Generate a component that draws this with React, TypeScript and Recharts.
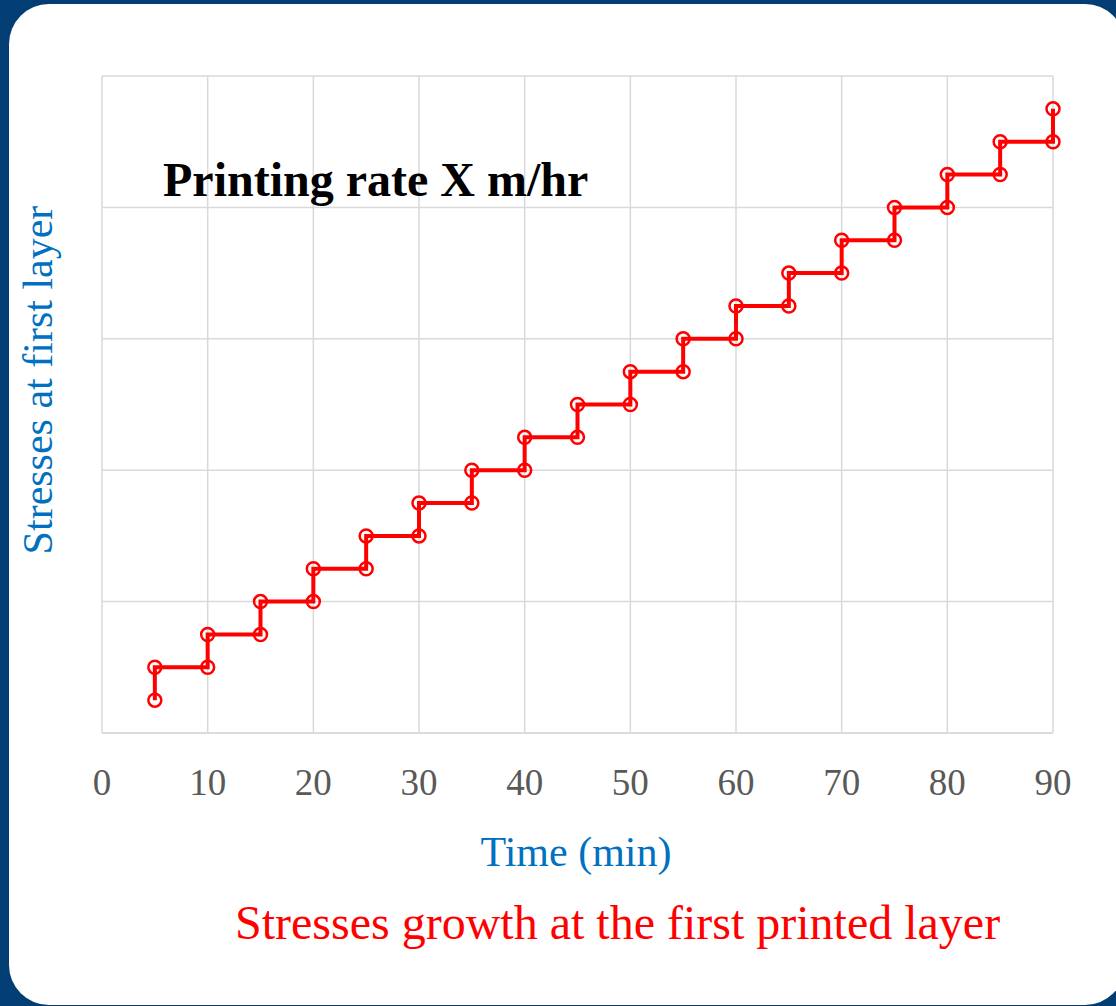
import React from 'react';
import { LineChart, Line, XAxis, YAxis, CartesianGrid } from 'recharts';

const timeMinutes = [
  5, 5, 10, 10, 15, 15, 20, 20, 25, 25, 30, 30, 35, 35, 40, 40, 45, 45,
  50, 50, 55, 55, 60, 60, 65, 65, 70, 70, 75, 75, 80, 80, 85, 85, 90, 90,
];
const stressValues = [
  0.25, 0.5, 0.5, 0.75, 0.75, 1.0, 1.0, 1.25, 1.25, 1.5, 1.5, 1.75, 1.75, 2.0, 2.0, 2.25, 2.25, 2.5,
  2.5, 2.75, 2.75, 3.0, 3.0, 3.25, 3.25, 3.5, 3.5, 3.75, 3.75, 4.0, 4.0, 4.25, 4.25, 4.5, 4.5, 4.75,
];
const xTicks = [0, 10, 20, 30, 40, 50, 60, 70, 80, 90];
const yTicks = [0, 1, 2, 3, 4, 5];

const chartTitle = 'Printing rate X m/hr';
const xAxisTitle = 'Time (min)';
const yAxisTitle = 'Stresses at first layer';
const caption = 'Stresses growth at the first printed layer';

const data = timeMinutes.map((t, i) => ({ time: t, stress: stressValues[i] }));

const SERIF = '"Liberation Serif", "Times New Roman", serif';

const EmptyTick = () => <g />;

export default function App() {
  return (
    <div
      style={{
        position: 'absolute',
        left: 0,
        top: 0,
        width: 1116,
        height: 1006,
        background: '#023e73',
        overflow: 'hidden',
      }}
    >
      <div
        style={{
          position: 'absolute',
          left: 9,
          top: 4,
          width: 1116,
          height: 1001,
          background: '#ffffff',
          borderRadius: 40,
        }}
      />
      <div style={{ position: 'absolute', left: 0, top: 0 }}>
        <LineChart
          width={1116}
          height={1006}
          data={data}
          margin={{ top: 76, right: 63, bottom: 243, left: 102 }}
        >
          <CartesianGrid
            stroke="#d9d9d9"
            strokeWidth={1.5}
            horizontalValues={yTicks}
            verticalValues={xTicks}
          />
          <XAxis
            type="number"
            dataKey="time"
            domain={[0, 90]}
            ticks={xTicks}
            interval={0}
            height={30}
            tickLine={false}
            tickSize={0}
            tickMargin={36}
            axisLine={{ stroke: '#d9d9d9', strokeWidth: 1.5 }}
            tick={{ fill: '#595959', fontSize: 37, fontFamily: SERIF }}
          />
          <YAxis
            type="number"
            domain={[0, 5]}
            ticks={yTicks}
            interval={0}
            width={0}
            tick={<EmptyTick />}
            tickLine={false}
            axisLine={false}
          />
          <Line
            type="linear"
            dataKey="stress"
            stroke="#ff0000"
            strokeWidth={4}
            dot={{ r: 6.5, stroke: '#ff0000', strokeWidth: 2.5, fill: 'none' }}
            activeDot={false}
            isAnimationActive={false}
          />
        </LineChart>
      </div>
      <svg
        width={1116}
        height={1006}
        style={{ position: 'absolute', left: 0, top: 0, pointerEvents: 'none' }}
      >
        <text x={163} y={196} fontFamily={SERIF} fontWeight="bold" fontSize={48} fill="#000000">
          {chartTitle}
        </text>
        <text x={576} y={866} fontFamily={SERIF} fontSize={42} fill="#0070c0" textAnchor="middle">
          {xAxisTitle}
        </text>
        <text
          x={52}
          y={380}
          fontFamily={SERIF}
          fontSize={42}
          fill="#0070c0"
          textAnchor="middle"
          transform="rotate(-90, 52, 380)"
        >
          {yAxisTitle}
        </text>
        <text x={235} y={939} fontFamily={SERIF} fontSize={48} fill="#ff0000">
          {caption}
        </text>
      </svg>
    </div>
  );
}
